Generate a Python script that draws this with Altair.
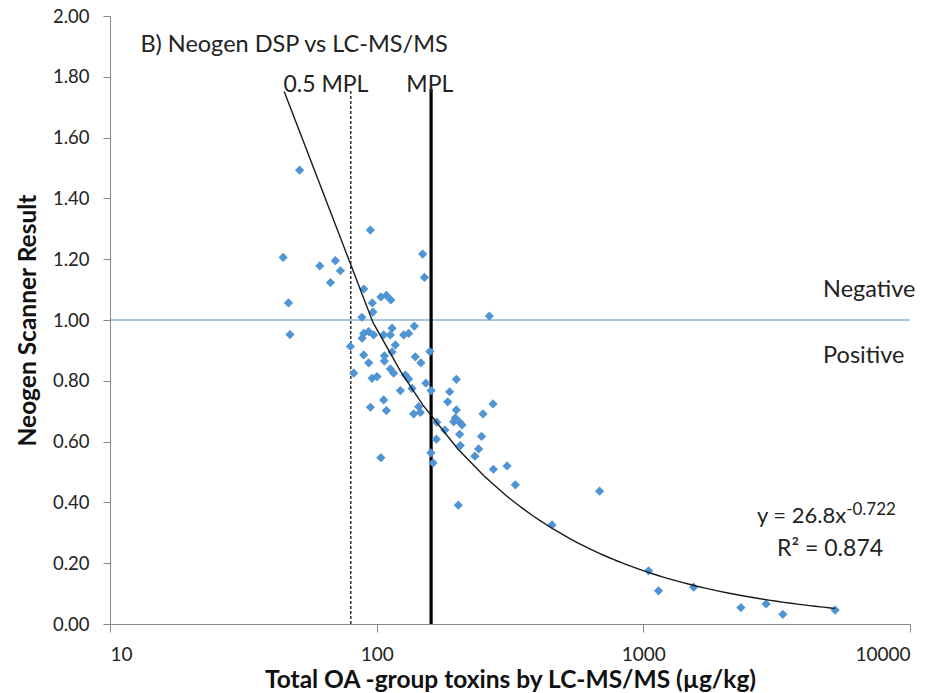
import altair as alt
import pandas as pd

# Total OA-group toxins by LC-MS/MS (µg/kg)
toxin_ugkg = [
    51.4, 94.7, 44.6, 61.2, 70.0, 73.1, 67.1, 46.7, 47.3, 148.8,
    151.0, 89.5, 96.3, 96.8, 103.7, 108.7, 113.0, 88.0, 264.5, 79.7,
    89.4, 88.2, 93.3, 97.4, 106.2, 112.5, 114.2, 126.3, 131.8, 138.4,
    117.5, 114.2, 89.4, 93.3, 106.9, 106.9, 139.6, 146.5, 158.3, 82.0,
    96.1, 100.3, 112.5, 115.8, 128.1, 131.8, 122.7, 135.7, 152.9, 160.0,
    199.0, 187.8, 106.2, 94.7, 108.7, 143.7, 137.6, 145.8, 184.6, 273.1,
    250.5, 199.0, 197.2, 194.4, 205.1, 209.0, 168.1, 180.2, 204.7, 167.4,
    247.3, 205.9, 241.2, 233.4, 159.7, 162.8, 103.7, 273.8, 308.3, 331.1,
    202.4, 685.2, 454.6, 1046, 1140, 1543, 2322, 2888, 3336, 5240,
]
# Neogen Scanner result
scanner_result = [
    1.493, 1.296, 1.206, 1.178, 1.195, 1.162, 1.123, 1.056, 0.952, 1.217,
    1.140, 1.102, 1.056, 1.026, 1.076, 1.081, 1.066, 1.009, 1.013, 0.913,
    0.956, 0.940, 0.962, 0.951, 0.951, 0.951, 0.973, 0.951, 0.956, 0.980,
    0.918, 0.895, 0.885, 0.859, 0.882, 0.865, 0.879, 0.859, 0.896, 0.825,
    0.808, 0.814, 0.839, 0.825, 0.819, 0.806, 0.768, 0.775, 0.792, 0.768,
    0.805, 0.764, 0.737, 0.713, 0.702, 0.715, 0.691, 0.696, 0.731, 0.724,
    0.691, 0.704, 0.678, 0.665, 0.663, 0.655, 0.664, 0.638, 0.624, 0.608,
    0.617, 0.587, 0.576, 0.552, 0.563, 0.530, 0.547, 0.509, 0.520, 0.458,
    0.391, 0.437, 0.326, 0.175, 0.109, 0.121, 0.054, 0.066, 0.032, 0.046,
]

x_ticks = [10, 100, 1000, 10000]
y_ticks = [0, 0.2, 0.4, 0.6, 0.8, 1.0, 1.2, 1.4, 1.6, 1.8, 2.0]
trend_extent = [45, 5240]
threshold_y = [1.0]
mpl_half_x = [80]
mpl_x = [160]
mpl_line_top = 1.76

title_text = ["B) Neogen DSP  vs LC-MS/MS"]
mpl_labels = ["0.5 MPL", "MPL"]
mpl_label_x = [44.7, 129.2]
mpl_label_y = [1.751, 1.751]
side_labels = ["Negative", "Positive"]
side_label_x = [4721, 4721]
side_label_y = [1.076, 0.859]

FONT = "Lato"
BLUE = "#4F94D4"
AXIS_GREY = "#868686"

points = pd.DataFrame({"x": toxin_ugkg, "y": scanner_result})

x_scale = alt.Scale(type="log", domain=[10, 10000], nice=False)
y_scale = alt.Scale(domain=[0, 2], nice=False)

x_axis = alt.Axis(
    title="Total OA -group toxins by LC-MS/MS (µg/kg)",
    values=x_ticks, format="d", grid=False,
    tickSize=8, labelPadding=13, titlePadding=4,
    domainColor=AXIS_GREY, tickColor=AXIS_GREY,
    labelFont=FONT, labelFontSize=19, labelColor="#222",
    titleFont=FONT, titleFontSize=24.5, titleFontWeight="bold", titleColor="#111",
)
y_axis = alt.Axis(
    title="Neogen  Scanner Result",
    values=y_ticks, format=".2f", grid=False,
    tickSize=7, labelPadding=14, titlePadding=12,
    domainColor=AXIS_GREY, tickColor=AXIS_GREY,
    labelFont=FONT, labelFontSize=18.5, labelColor="#222",
    titleFont=FONT, titleFontSize=24.5, titleFontWeight="bold", titleColor="#111",
)


def X():
    return alt.X("x:Q", scale=x_scale, axis=x_axis)


def Y():
    return alt.Y("y:Q", scale=y_scale, axis=y_axis)


hline = alt.Chart(pd.DataFrame({"y": threshold_y})).mark_rule(
    color="#5689C4", strokeWidth=1.2
).encode(y=Y())

vl_df_half = pd.DataFrame({"x": mpl_half_x, "y": [0.0], "y2": [mpl_line_top]})
vl_df = pd.DataFrame({"x": mpl_x, "y": [0.0], "y2": [mpl_line_top]})
dashed = alt.Chart(vl_df_half).mark_rule(
    color="black", strokeWidth=1.2, strokeDash=[3, 2]
).encode(x=X(), y=Y(), y2="y2:Q")
solid = alt.Chart(vl_df).mark_rule(color="black", strokeWidth=3.2).encode(
    x=X(), y=Y(), y2="y2:Q"
)

pts = alt.Chart(points).mark_point(
    shape="diamond", filled=True, size=85, color=BLUE, opacity=1
).encode(x=X(), y=Y())

trend = alt.Chart(points).transform_regression(
    "x", "y", method="pow", extent=trend_extent
).mark_line(color="#1a1a1a", strokeWidth=1.4).encode(x=X(), y=Y())


def text_layer(df, align, size):
    return alt.Chart(df).mark_text(
        align=align, baseline="alphabetic", font=FONT, fontSize=size,
        color="#222"
    ).encode(x=X(), y=Y(), text="label:N")


title_df = pd.DataFrame({"x": [13.0], "y": [1.883], "label": title_text})
mpl_df = pd.DataFrame({"x": mpl_label_x, "y": mpl_label_y, "label": mpl_labels})
side_df = pd.DataFrame({"x": side_label_x, "y": side_label_y, "label": side_labels})
eq_df = pd.DataFrame({"x": [5762], "y": [0.332], "label": ["y = 26.8x"]})
exp_df = pd.DataFrame({"x": [5762], "y": [0.359], "label": ["-0.722"]})
r2_df = pd.DataFrame({"x": [7925], "y": [0.224], "label": ["R² = 0.874"]})

chart = alt.layer(
    hline, dashed, solid, pts, trend,
    text_layer(title_df, "left", 23.5),
    text_layer(mpl_df, "left", 23),
    text_layer(side_df, "left", 23.5),
    text_layer(eq_df, "right", 22),
    text_layer(exp_df, "left", 17),
    text_layer(r2_df, "right", 23),
).properties(
    width=800, height=608,
    autosize=alt.AutoSizeParams(type="none"),
    padding={"left": 110, "top": 16, "right": 35, "bottom": 69},
    background="white",
).configure(font=FONT).configure_view(strokeWidth=0)

chart.save("out.html", embed_options={"renderer": "svg", "actions": False})
